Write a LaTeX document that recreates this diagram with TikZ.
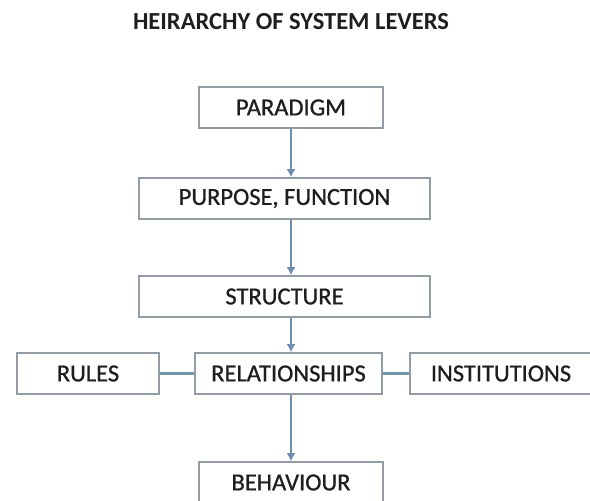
\documentclass[tikz,border=0pt]{standalone}
\usepackage{fontspec}
\setmainfont{Carlito}
\newfontfamily\leverfont[FakeBold=0.9]{Carlito}
\usetikzlibrary{arrows.meta}

\definecolor{boxgray}{HTML}{939CA4}
\definecolor{arrowblue}{HTML}{6F8DAE}
\definecolor{linkteal}{HTML}{6F99A8}
\definecolor{textdark}{HTML}{1E1E1E}

\begin{document}
\begin{tikzpicture}[x=1pt,y=-1pt]
\tikzset{
    lever/.style={draw=boxgray, line width=1.6pt, fill=white, inner sep=0pt,
        minimum height=41pt, text=textdark, font=\leverfont\fontsize{24.5}{28}\selectfont},
    down/.style={draw=arrowblue, line width=1.8pt, -{Latex[length=8pt,width=9pt]}},
    link/.style={draw=linkteal, line width=2.8pt}
}
\useasboundingbox (0,0) rectangle (590,501);

% Title
\node[text=textdark, font=\bfseries\fontsize{24.5}{28}\selectfont] (title) at (291,22) {HEIRARCHY OF SYSTEM LEVERS};

% Levers
\node[lever, minimum width=184pt] (paradigm) at (291,107.5) {PARADIGM};
\node[lever, minimum width=291pt] (purpose) at (284.5,198.5) {PURPOSE, FUNCTION};
\node[lever, minimum width=291pt] (structure) at (284.5,296.5) {STRUCTURE};
\node[lever, minimum width=187pt] (relations) at (288.5,373.5) {RELATIONSHIPS};
\node[lever, minimum width=142pt] (rules) at (88,373.5) {RULES};
\node[lever, minimum width=182pt] (institutions) at (501,373.5) {INSTITUTIONS};
\node[lever, minimum width=184pt] (behaviour) at (291,482.5) {BEHAVIOUR};

% Arrows down the hierarchy
\draw[down] (paradigm.south) -- (paradigm.south |- purpose.north);
\draw[down] (paradigm.south |- purpose.south) -- (paradigm.south |- structure.north);
\draw[down] (paradigm.south |- structure.south) -- (paradigm.south |- relations.north);
\draw[down] (paradigm.south |- relations.south) -- (behaviour.north);

% Side links
\draw[link] (rules.east) -- (relations.west);
\draw[link] (relations.east) -- (institutions.west);
\end{tikzpicture}
\end{document}
